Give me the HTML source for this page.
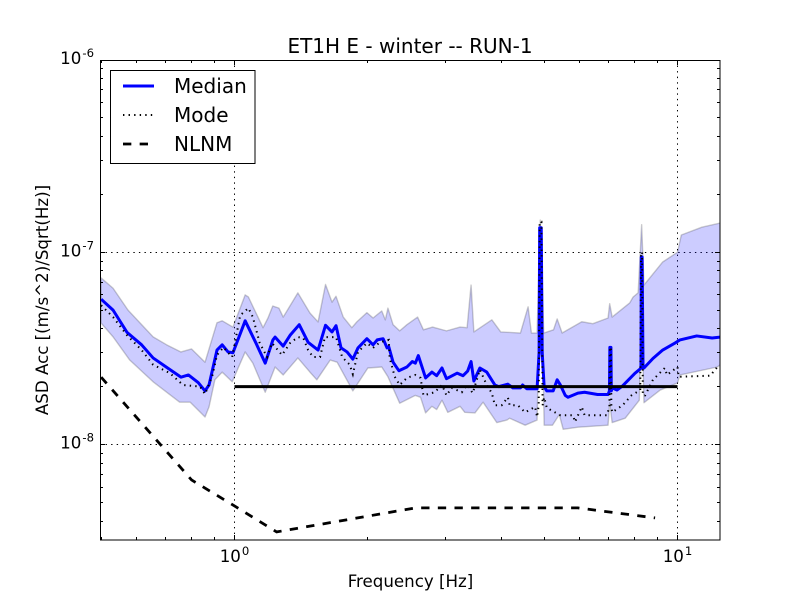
<!DOCTYPE html>
<html>
<head>
<meta charset="utf-8">
<title>ET1H E - winter -- RUN-1</title>
<style>
html,body{margin:0;padding:0;background:#fff}
svg{display:block}
text{font-family:"DejaVu Sans","Liberation Sans",sans-serif;fill:#000}
</style>
</head>
<body>
<svg id="chart" xmlns="http://www.w3.org/2000/svg" width="800" height="600" viewBox="0 0 800 600">
<defs><clipPath id="plot-clip"><rect x="100" y="60" width="620" height="480"/></clipPath></defs>
<rect x="0" y="0" width="800" height="600" fill="#fff"/>
<g id="grid-layer"></g>
<g id="data-layer" clip-path="url(#plot-clip)"></g>
<g id="tick-layer"></g>
<rect x="100.5" y="60.5" width="619.5" height="479.5" fill="none" stroke="#000" stroke-width="1"/>
<g id="label-layer"></g>
<text x="410" y="53" font-size="20" text-anchor="middle">ET1H E - winter -- RUN-1</text>
<text x="410.5" y="587" font-size="16.67" text-anchor="middle">Frequency [Hz]</text>
<text transform="translate(48,300) rotate(-90)" font-size="16.67" text-anchor="middle">ASD Acc [(m/s^2)/Sqrt(Hz)]</text>
<g>
<rect x="110.5" y="70.5" width="144.5" height="93" fill="#fff" stroke="#000" stroke-width="1"/>
<line x1="123" y1="86" x2="154" y2="86" stroke="#0000ff" stroke-width="3"/>
<text x="174" y="93" font-size="20">Median</text>
<line x1="123" y1="115" x2="154" y2="115" stroke="#000" stroke-width="2" stroke-dasharray="1.39 4.17"/>
<text x="174" y="122" font-size="20">Mode</text>
<line x1="123" y1="144" x2="154" y2="144" stroke="#000" stroke-width="2.78" stroke-dasharray="8.33 8.33"/>
<text x="174" y="151" font-size="20">NLNM</text>
</g>
</svg>
<script>
// Frequencies in Hz, ASD values in units of 1e-8 (m/s^2)/Sqrt(Hz).
const medianFreq = [.5,.532,.572,.617,.655,.703,.757,.787,.828,.858,.876,.913,.938,.967,.992,1.057,1.118,1.173,1.221,1.235,1.288,1.335,1.4,1.466,1.544,1.605,1.66,1.695,1.74,1.795,1.85,1.9,1.99,2.055,2.1,2.165,2.21,2.23,2.28,2.35,2.45,2.52,2.56,2.6,2.7,2.79,2.86,2.94,3.01,3.18,3.28,3.36,3.42,3.47,3.58,3.71,3.87,3.95,4.14,4.25,4.42,4.47,4.57,4.82,4.87,4.885,4.925,4.95,5.0,5.07,5.24,5.35,5.44,5.58,5.66,5.96,6.17,6.6,6.97,7.02,7.035,7.075,7.09,7.12,7.3,7.52,8.02,8.2,8.27,8.285,8.32,8.36,8.4,8.8,9.26,9.87,10.13,11.05,11.97,12.5];
const medianAsd = [5.7,5.0,3.83,3.3,2.82,2.52,2.24,2.3,2.1,1.9,2.04,3.1,3.3,3.03,3.0,4.4,3.37,2.65,3.5,3.62,3.25,3.7,4.2,3.4,3.1,4.17,3.85,4.15,3.18,3.03,2.78,3.18,3.55,3.3,3.5,3.55,3.18,3.22,2.68,2.42,2.53,2.7,2.65,2.9,2.22,2.38,2.28,2.5,2.2,2.35,2.28,2.41,2.7,2.14,2.5,2.38,2.04,2.0,2.06,1.97,1.97,2.04,1.95,1.95,3,13.4,13.4,3,2.0,1.9,1.9,2.17,2.04,1.8,1.76,1.85,1.87,1.82,1.82,1.9,3.2,3.2,1.9,1.97,1.92,2.02,2.35,2.45,2.5,9.45,9.45,2.5,2.5,2.8,3.1,3.37,3.5,3.67,3.58,3.62];
const upperFreq = [.5,.532,.575,.655,.703,.757,.8,.858,.913,.938,.992,1.057,1.075,1.16,1.19,1.22,1.26,1.288,1.39,1.48,1.544,1.605,1.66,1.695,1.76,1.84,1.89,1.99,2.055,2.15,2.19,2.22,2.28,2.36,2.45,2.59,2.67,2.8,3.01,3.23,3.35,3.42,3.47,3.81,3.99,4.42,4.6,4.68,4.82,4.9,4.99,5.25,5.35,5.49,6.08,6.44,6.97,7.03,7.12,7.8,7.94,8.15,8.3,8.4,9.26,10,10.2,11.35,12.5];
const upperAsd = [7.35,6.5,5.0,3.63,3.3,3.03,3.14,2.68,4.3,4.4,4.08,6.0,5.85,4.05,4.55,5.25,5.12,4.6,6.15,4.83,4.34,6.8,5.5,5.9,4.6,4.05,4.35,4.85,4.55,4.95,4.45,5.12,4.2,3.9,4.2,4.6,3.95,4.08,3.9,4.08,4.05,6.75,3.85,4.45,3.85,3.8,5.2,3.8,3.8,14.7,3.8,3.95,4.5,3.8,4.35,4.25,4.55,5.4,4.6,5.45,5.85,6.15,13.9,6.75,8.9,10,12.3,13.5,14.2];
const lowerFreq = [.5,.532,.58,.655,.752,.794,.858,.876,.903,.938,.988,1.057,1.1,1.173,1.235,1.288,1.39,1.48,1.534,1.645,1.705,1.85,2.0,2.15,2.22,2.36,2.56,2.63,2.7,2.79,2.86,2.94,3.03,3.23,3.31,3.49,3.64,3.91,4.12,4.18,4.53,4.82,4.92,5.0,5.22,5.41,5.52,5.96,6.97,7.03,7.12,7.62,8.2,8.3,8.4,9.14,10,10.13,12.3,12.5];
const lowerAsd = [4.28,3.63,2.75,2.12,1.66,1.66,1.39,1.57,2.17,2.38,2.12,3.03,2.65,1.87,2.53,2.3,2.82,2.38,2.17,2.75,2.68,1.9,2.5,2.53,2.25,1.64,1.8,1.76,1.46,1.58,1.52,1.7,1.47,1.58,1.47,1.46,1.66,1.3,1.34,1.37,1.26,1.34,11,1.26,1.26,1.43,1.2,1.23,1.26,1.65,1.3,1.37,1.7,5.6,1.65,1.92,2.09,2.3,2.53,2.6];
const modeFreq = [.5,.532,.572,.617,.655,.715,.765,.836,.858,.89,.913,.944,.988,1.012,1.03,1.075,1.1,1.14,1.185,1.215,1.28,1.335,1.39,1.43,1.466,1.505,1.56,1.6,1.695,1.75,1.82,1.85,1.9,1.99,2.055,2.13,2.23,2.24,2.3,2.36,2.45,2.56,2.63,2.67,2.83,2.94,3.01,3.09,3.26,3.35,3.45,3.58,3.71,3.81,3.87,4.01,4.14,4.18,4.36,4.53,4.77,4.82,4.86,4.885,4.93,4.96,5.0,5.07,5.29,5.44,5.81,5.87,6.08,6.17,6.93,7.02,7.035,7.075,7.09,7.12,7.52,7.87,8.24,8.275,8.32,8.35,8.45,8.8,9.36,9.47,10,10.06,11.85,12.3,12.5];
const modeAsd = [5.3,4.6,3.7,3.1,2.6,2.35,2.04,2.0,1.83,2.25,2.92,3.2,2.85,3.8,4.7,5.12,4.6,3.37,2.85,3.37,2.92,3.37,3.62,3.58,3.1,2.85,2.85,3.62,3.62,2.85,2.6,2.32,3.03,3.37,3.18,3.4,3.5,2.82,2.25,2.04,2.22,2.3,2.22,1.8,1.87,2.04,1.8,1.97,1.87,2.04,1.85,2.45,2.04,1.85,1.6,1.6,1.76,1.6,1.6,1.47,1.57,1.39,1.6,14.4,14.4,1.6,1.76,1.55,1.47,1.42,1.42,1.31,1.57,1.42,1.42,1.57,3.2,3.2,1.57,1.47,1.6,1.8,1.92,10,10,1.8,1.8,2.17,2.5,2.3,2.53,2.25,2.28,2.53,2.56];
const nlnmFreq = [.5,.8,1.0,1.245,2.56,5.96,8.9];
const nlnmAsd = [2.24,.654,.479,.351,.468,.468,.415];
const referenceFreq = [1,10];
const referenceAsd = [2,2];
const xMajorTicks = [1,10];
const xMinorTicks = [.5,.6,.7,.8,.9,2,3,4,5,6,7,8,9];
const yMajorTicks = [1,10,100];
const yMinorTicks = [.4,.5,.6,.7,.8,.9,2,3,4,5,6,7,8,9,20,30,40,50,60,70,80,90];
const xTickExponents = ['0','1'];
const yTickExponents = ['-8','-7','-6'];

const SVGNS = 'http://www.w3.org/2000/svg';
function sx(f){ return 234.5 + 443 * Math.log10(f); }
function sy(v){ return 444.5 - 192.25 * Math.log10(v); }
function pathFrom(fs, vs){
  return fs.map((f,i)=>(i?'L':'M')+sx(f).toFixed(2)+' '+sy(vs[i]).toFixed(2)).join(' ');
}
function make(parent, tag, attrs){
  const el = document.createElementNS(SVGNS, tag);
  Object.keys(attrs).forEach(k=>el.setAttribute(k, attrs[k]));
  parent.appendChild(el);
  return el;
}
const grid = document.getElementById('grid-layer');
const data = document.getElementById('data-layer');
const ticks = document.getElementById('tick-layer');
const labels = document.getElementById('label-layer');

xMajorTicks.forEach(f=>{
  const x = Math.round(sx(f)-.5)+.5;
  const g = make(grid,'line',{x1:x,y1:60,x2:x,y2:540,stroke:'#000','stroke-width':1,'stroke-dasharray':'1.39 4.17'});
  
  
});
yMajorTicks.forEach(v=>{
  const y = Math.round(sy(v)-.5)+.5;
  const g = make(grid,'line',{x1:100,y1:y,x2:720,y2:y,stroke:'#000','stroke-width':1,'stroke-dasharray':'1.39 4.17'});
  
  
});
function xTick(f,len){
  const x = Math.round(sx(f)-.5)+.5;
  const a = make(ticks,'line',{x1:x,y1:540,x2:x,y2:540-len,stroke:'#000','stroke-width':1});
  
  
  const b = make(ticks,'line',{x1:x,y1:60,x2:x,y2:60+len,stroke:'#000','stroke-width':1});
  
  
}
function yTick(v,len){
  const y = Math.round(sy(v)-.5)+.5;
  const a = make(ticks,'line',{x1:100,y1:y,x2:100+len,y2:y,stroke:'#000','stroke-width':1});
  
  
  const b = make(ticks,'line',{x1:720,y1:y,x2:720-len,y2:y,stroke:'#000','stroke-width':1});
  
  
}
xMajorTicks.forEach(f=>xTick(f,5));
xMinorTicks.forEach(f=>xTick(f,3));
yMajorTicks.forEach(v=>yTick(v,5));
yMinorTicks.forEach(v=>yTick(v,3));

function powerLabel(x,y,anchor,exp,name){
  const t = make(labels,'text',{x:x,y:y,'font-size':16.67,'text-anchor':anchor});
  
  
  const base = make(t,'tspan',{});
  base.textContent = '10';
  const sup = make(t,'tspan',{dy:-7,dx:1,'font-size':11.67});
  sup.textContent = exp;
}
xMajorTicks.forEach((f,i)=>powerLabel(sx(f),562,'middle',xTickExponents[i],'x-tick-label'));
yMajorTicks.forEach((v,i)=>powerLabel(94,sy(v)+4,'end',yTickExponents[i],'y-tick-label'));

const band = make(data,'path',{
  d: pathFrom(upperFreq,upperAsd)+' L'+pathFrom(lowerFreq.slice().reverse(),lowerAsd.slice().reverse()).slice(1)+' Z',
  fill:'#0000ff','fill-opacity':.2,stroke:'#000','stroke-opacity':.2,'stroke-width':1.4,'stroke-linejoin':'round'
});


const medianLine = make(data,'path',{d:pathFrom(medianFreq,medianAsd),fill:'none',stroke:'#0000ff','stroke-width':3,'stroke-linejoin':'round'});


const modeLine = make(data,'path',{d:pathFrom(modeFreq,modeAsd),fill:'none',stroke:'#000','stroke-width':2,'stroke-dasharray':'1.39 4.17'});


const refLine = make(data,'path',{d:pathFrom(referenceFreq,referenceAsd),fill:'none',stroke:'#000','stroke-width':3});


const nlnmLine = make(data,'path',{d:pathFrom(nlnmFreq,nlnmAsd),fill:'none',stroke:'#000','stroke-width':2.78,'stroke-dasharray':'8.33 8.33'});


</script>
</body>
</html>
